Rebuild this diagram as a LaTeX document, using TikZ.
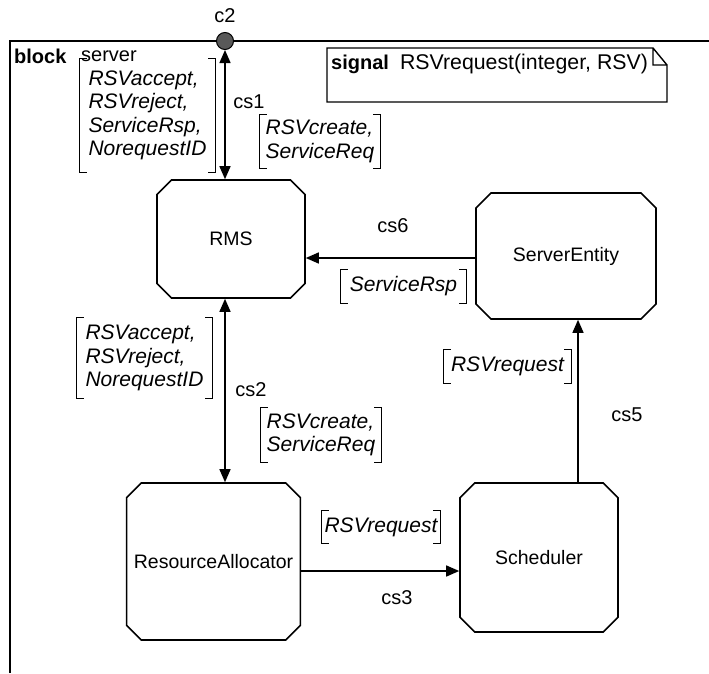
\documentclass[tikz,border=0pt]{standalone}
\usepackage{fontspec}
\setmainfont{Liberation Sans}
\usetikzlibrary{arrows.meta,shapes.misc}
\newcommand\brk[1]{\draw[brk] ([xshift=7pt]#1.north west) -- (#1.north west) -- (#1.south west) -- ([xshift=7pt]#1.south west)
  ([xshift=-7pt]#1.north east) -- (#1.north east) -- (#1.south east) -- ([xshift=-7pt]#1.south east);}
\begin{document}
\begin{tikzpicture}[x=1pt,y=-1pt,
  blk/.style={chamfered rectangle, chamfered rectangle xsep=7.5pt, chamfered rectangle ysep=7.5pt,
    draw, line width=1.6pt, inner sep=0pt, font=\fontsize{19.5}{23}\selectfont},
  lbl/.style={font=\fontsize{20}{24}\selectfont, inner sep=0pt},
  sig/.style={font=\fontsize{21}{23.5}\selectfont\itshape, align=left, inner sep=0pt},
  brk/.style={line width=1.2pt},
  conn/.style={line width=1.4pt},
  >={Triangle[length=13pt,width=11pt]}
]
\useasboundingbox (0,0) rectangle (709,673);
% frame
\draw[line width=1.5pt] (10,673) -- (10,41) -- (709,41);
\node[lbl, font=\fontsize{20}{24}\selectfont\bfseries, anchor=west] (blockkw) at (14,56) {block};
\node[lbl, anchor=west] (blockname) at (81,56) {server};

% signal note
\draw[line width=1.4pt] (653,48) -- (327,48) -- (327,102) -- (667,102) -- (667,65) -- (653,65) -- cycle
  (653,48) -- (667,65);
\node[lbl, anchor=west] (signal) at (331,64) {\textbf{signal}\ \ \fontsize{21.3}{24}\selectfont RSVrequest(integer, RSV)};

% gate
\node[circle, fill=black!65, draw=black, line width=1pt, minimum size=17pt, inner sep=0pt] (c2) at (225,41) {};
\node[lbl] (c2lbl) at (225,16) {c2};

% blocks
\node[blk, minimum width=148pt, minimum height=118pt] (RMS) at (231,239) {RMS};
\node[blk, minimum width=180pt, minimum height=126pt] (SE) at (566,256) {ServerEntity};
\node[blk, minimum width=167pt, minimum height=157pt] (RA) at (213.5,561.5) {ResourceAllocator};
\node[blk, minimum width=158pt, minimum height=149pt] (SCH) at (539,557.5) {Scheduler};

% connectors
\draw[conn,<->] (c2.south) -- (c2 |- RMS.north);
\draw[conn,<->] (c2 |- RMS.south) -- (c2 |- RA.north);
\draw[conn,->] ([yshift=-2pt]SE.west) -- ([yshift=-2pt]SE.west -| RMS.east);
\coordinate (cs5b) at ([xshift=39pt]SCH.north);
\draw[conn,->] (cs5b) -- (cs5b |- SE.south);
\coordinate (cs3a) at ([yshift=-9.5pt]RA.east);
\draw[conn,->] (cs3a) -- (cs3a -| SCH.west);

% channel names
\node[lbl] (cs1) at (249,102) {cs1};
\node[lbl] (cs2) at (251,390) {cs2};
\node[lbl] (cs6) at (393,226) {cs6};
\node[lbl] (cs5) at (627,415) {cs5};
\node[lbl] (cs3) at (397,598) {cs3};

% signal lists
\node[sig, minimum width=135pt, minimum height=113pt] (l1a) at (147.5,115.5) {RSVaccept,\\RSVreject,\\ServiceRsp,\\NorequestID};
\brk{l1a}
\node[sig, minimum width=120pt, minimum height=53pt] (l1b) at (320,141.5) {RSVcreate,\\ServiceReq};
\brk{l1b}
\node[sig, minimum width=135pt, minimum height=80pt] (l2a) at (144.5,358) {RSVaccept,\\RSVreject,\\NorequestID};
\brk{l2a}
\node[sig, minimum width=120pt, minimum height=54pt] (l2b) at (321,435) {RSVcreate,\\ServiceReq};
\brk{l2b}
\node[sig, minimum width=125pt, minimum height=33pt] (l6) at (403.5,286.5) {ServiceRsp};
\brk{l6}
\node[sig, minimum width=127pt, minimum height=33pt] (l5) at (507.5,366.5) {RSVrequest};
\brk{l5}
\node[sig, minimum width=118pt, minimum height=32pt] (l3) at (381,527) {RSVrequest};
\brk{l3}
\end{tikzpicture}
\end{document}
